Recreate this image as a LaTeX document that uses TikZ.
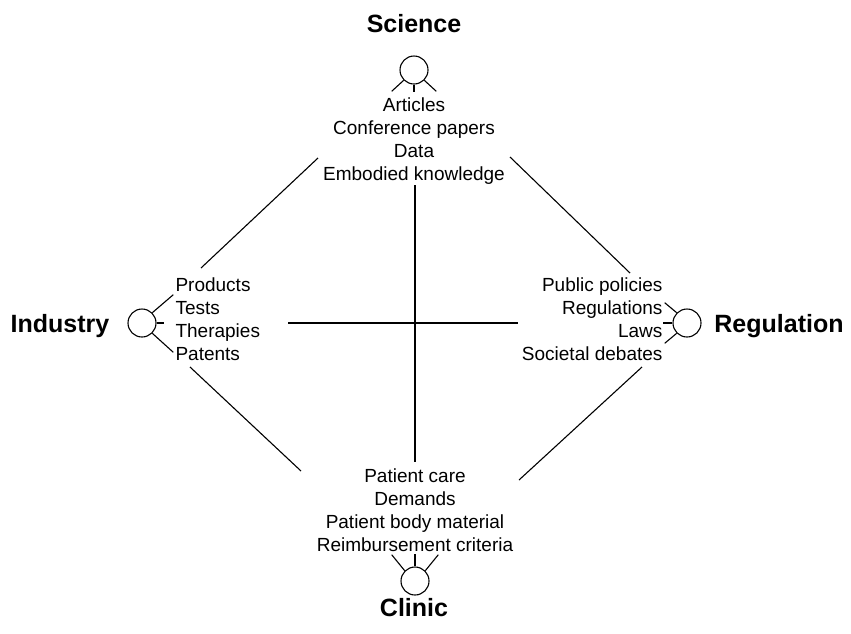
\documentclass[tikz,border=0pt]{standalone}
\usepackage{fontspec}
\setmainfont{Liberation Sans}
\begin{document}
\begin{tikzpicture}[x=1pt,y=-1pt,
  line width=1.1pt,
  hub/.style={circle,draw,minimum size=28pt,inner sep=0pt},
  items/.style={font=\fontsize{19}{23}\selectfont,inner sep=0pt},
  title/.style={font=\fontsize{25}{30}\selectfont\bfseries,inner sep=0pt},
  link/.style={line width=1.1pt}]
\useasboundingbox (0,0) rectangle (851,633);
% hubs
\node[hub] (sci) at (414,70) {};
\node[hub] (ind) at (142,323) {};
\node[hub] (reg) at (687,323) {};
\node[hub] (cli) at (415,581) {};
% spokes
\draw (sci.south west) -- ++(-12,11);
\draw (sci.south) -- ++(0,7);
\draw (sci.south east) -- ++(12,11);
\draw (ind.north east) -- ++(21,-18);
\draw (ind.east) -- ++(7,0);
\draw (ind.south east) -- ++(21,19);
\draw (reg.north west) -- ++(-12,-10);
\draw (reg.west) -- ++(-9,0);
\draw (reg.south west) -- ++(-12,10);
\draw (cli.north west) -- ++(-13,-16);
\draw (cli.north) -- ++(0,-12);
\draw (cli.north east) -- ++(13,-16);
% titles
\node[title] (tsci) at (414,24) {Science};
\node[title] (tind) at (60,326) {Industry};
\node[title] (treg) at (779,326) {Regulation};
\node[title] (tcli) at (414,608) {Clinic};
% item lists
\node[items,align=center] (lsci) at (414,141) {Articles\\Conference papers\\Data\\Embodied knowledge};
\node[items,align=left,anchor=west] (lind) at (175,319) {Products\\Tests\\Therapies\\Patents};
\node[items,align=right,anchor=east] (lreg) at (663,319) {Public policies\\Regulations\\Laws\\Societal debates};
\node[items,align=center] (lcli) at (415,510) {Patient care\\Demands\\Patient body material\\Reimbursement criteria};
% connector ends
\coordinate (siA) at (318,158); \coordinate (siB) at (201,268);
\coordinate (srA) at (510,157); \coordinate (srB) at (630,273);
\coordinate (icA) at (190,367); \coordinate (icB) at (301,471);
\coordinate (rcA) at (642,367); \coordinate (rcB) at (519,480);
\coordinate (scA) at (415,185); \coordinate (scB) at (415,462);
\coordinate (irA) at (288,323); \coordinate (irB) at (518,323);
\draw[link] (siA) -- (siB);
\draw[link] (srA) -- (srB);
\draw[link] (icA) -- (icB);
\draw[link] (rcA) -- (rcB);
\draw[link] (scA) -- (scB);
\draw[link] (irA) -- (irB);
\end{tikzpicture}
\end{document}
